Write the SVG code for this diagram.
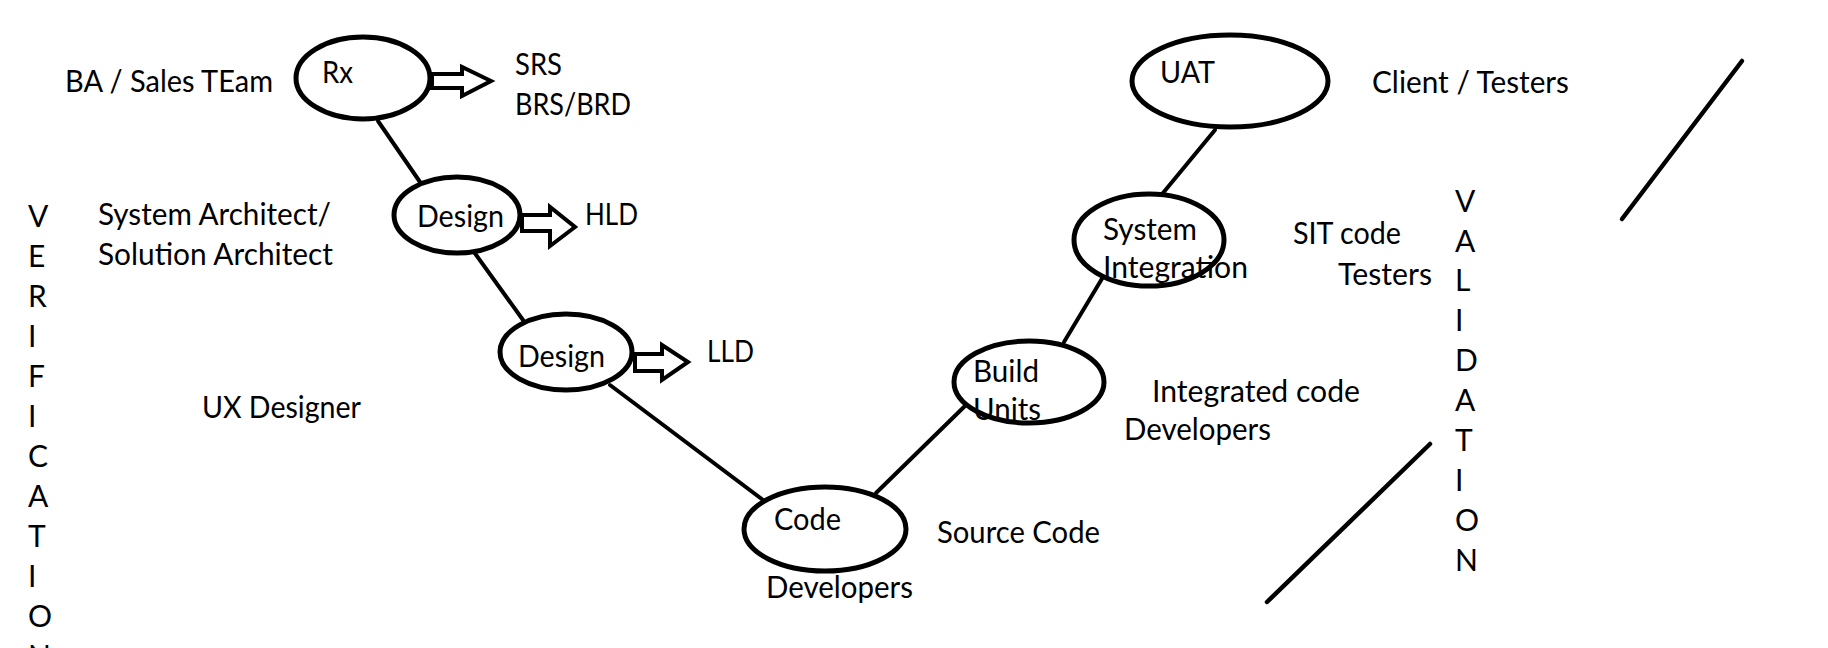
<svg xmlns="http://www.w3.org/2000/svg" width="1828" height="648" viewBox="0 0 1828 648">
<style>
  text { font-family: Lato, "Open Sans", "Liberation Sans", sans-serif; font-size: 30px; fill: #000; }
  .node { fill: #fff; stroke: #000; stroke-width: 5; }
  .conn { stroke: #000; stroke-width: 4; fill: none; stroke-linecap: round; }
  .barrow { fill: #fff; stroke: #000; stroke-width: 4; stroke-linejoin: miter; }
  .slash { stroke: #000; stroke-width: 4.5; stroke-linecap: round; fill: none; }
</style>
<rect width="1828" height="648" fill="#fff"/>

<g id="connectors">
  <line class="conn" x1="378" y1="121" x2="420" y2="182"/>
  <line class="conn" x1="474" y1="252" x2="523" y2="320"/>
  <line class="conn" x1="610" y1="385" x2="763" y2="500"/>
  <line class="conn" x1="876" y1="493" x2="966" y2="405"/>
  <line class="conn" x1="1064" y1="342" x2="1103" y2="277"/>
  <line class="conn" x1="1163" y1="193" x2="1215" y2="130"/>
</g>

<g id="node-rx">
  <ellipse class="node" cx="363" cy="78" rx="67" ry="41"/>
  <text x="322" y="83" textLength="31" lengthAdjust="spacingAndGlyphs">Rx</text>
</g>
<g id="node-design-hld">
  <ellipse class="node" cx="457" cy="215" rx="63" ry="38"/>
  <text x="417" y="227" textLength="87" lengthAdjust="spacingAndGlyphs">Design</text>
</g>
<g id="node-design-lld">
  <ellipse class="node" cx="566" cy="352" rx="66" ry="38"/>
  <text x="518" y="367" textLength="87" lengthAdjust="spacingAndGlyphs">Design</text>
</g>
<g id="node-code">
  <ellipse class="node" cx="825" cy="529" rx="81" ry="42"/>
  <text x="774" y="530" textLength="67" lengthAdjust="spacingAndGlyphs">Code</text>
</g>
<g id="node-build">
  <ellipse class="node" cx="1029" cy="382" rx="75" ry="41"/>
  <text x="973" y="382" textLength="66" lengthAdjust="spacingAndGlyphs">Build</text>
  <text x="973" y="420" textLength="68" lengthAdjust="spacingAndGlyphs">Units</text>
</g>
<g id="node-si">
  <ellipse class="node" cx="1149" cy="240" rx="75" ry="46"/>
  <text x="1103" y="240" textLength="94" lengthAdjust="spacingAndGlyphs">System</text>
  <text x="1103" y="278" textLength="145" lengthAdjust="spacingAndGlyphs">Integration</text>
</g>
<g id="node-uat">
  <ellipse class="node" cx="1230" cy="81" rx="98" ry="46"/>
  <text x="1160" y="83" textLength="55" lengthAdjust="spacingAndGlyphs">UAT</text>
</g>

<g id="deliverable-arrows">
  <polygon class="barrow" points="432,74 462,74 462,67 491,81 462,96 462,88 432,88"/>
  <polygon class="barrow" points="522,215 550,215 550,207 575,227 550,246 550,231 522,231"/>
  <polygon class="barrow" points="635,354 662,354 662,345 688,362 662,380 662,371 635,371"/>
</g>

<g id="labels">
  <text x="65" y="92" textLength="208" lengthAdjust="spacingAndGlyphs">BA / Sales TEam</text>
  <text x="515" y="75" textLength="47" lengthAdjust="spacingAndGlyphs">SRS</text>
  <text x="515" y="115" textLength="116" lengthAdjust="spacingAndGlyphs">BRS/BRD</text>
  <text x="585" y="225" textLength="53" lengthAdjust="spacingAndGlyphs">HLD</text>
  <text x="707" y="362" textLength="47" lengthAdjust="spacingAndGlyphs">LLD</text>
  <text x="98" y="225" textLength="233" lengthAdjust="spacingAndGlyphs">System Architect/</text>
  <text x="98" y="265" textLength="235" lengthAdjust="spacingAndGlyphs">Solution Architect</text>
  <text x="202" y="418" textLength="159" lengthAdjust="spacingAndGlyphs">UX Designer</text>
  <text x="766" y="598" textLength="147" lengthAdjust="spacingAndGlyphs">Developers</text>
  <text x="937" y="543" textLength="163" lengthAdjust="spacingAndGlyphs">Source Code</text>
  <text x="1152" y="402" textLength="208" lengthAdjust="spacingAndGlyphs">Integrated code</text>
  <text x="1124" y="440" textLength="147" lengthAdjust="spacingAndGlyphs">Developers</text>
  <text x="1372" y="93" textLength="197" lengthAdjust="spacingAndGlyphs">Client / Testers</text>
  <text x="1293" y="244" textLength="108" lengthAdjust="spacingAndGlyphs">SIT code</text>
  <text x="1338" y="285" textLength="94" lengthAdjust="spacingAndGlyphs">Testers</text>
</g>

<g id="verification">
  <text x="28" y="227">V</text>
  <text x="28" y="267">E</text>
  <text x="28" y="307">R</text>
  <text x="28" y="347">I</text>
  <text x="28" y="387">F</text>
  <text x="28" y="427">I</text>
  <text x="28" y="467">C</text>
  <text x="28" y="507">A</text>
  <text x="28" y="547">T</text>
  <text x="28" y="587">I</text>
  <text x="28" y="627">O</text>
  <text x="28" y="667">N</text>
</g>

<g id="validation">
  <text x="1455" y="212">V</text>
  <text x="1455" y="252">A</text>
  <text x="1455" y="291">L</text>
  <text x="1455" y="331">I</text>
  <text x="1455" y="371">D</text>
  <text x="1455" y="411">A</text>
  <text x="1455" y="451">T</text>
  <text x="1455" y="491">I</text>
  <text x="1455" y="531">O</text>
  <text x="1455" y="571">N</text>
</g>

<g id="slashes">
  <line class="slash" x1="1742" y1="61" x2="1622" y2="219"/>
  <line class="slash" x1="1430" y1="444" x2="1267" y2="602"/>
</g>
</svg>
